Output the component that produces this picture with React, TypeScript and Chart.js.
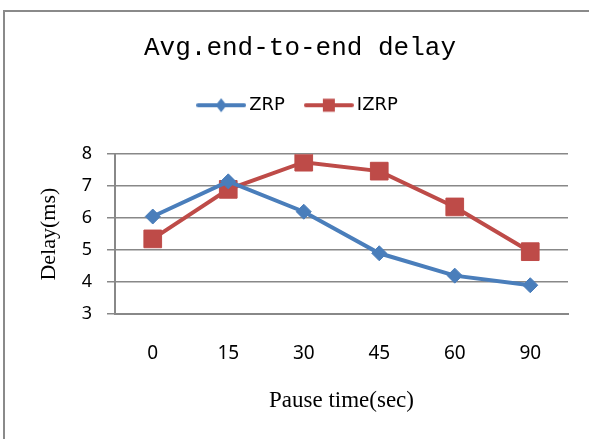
import React, { useEffect, useRef } from 'react';
import { Chart, registerables } from 'chart.js';

Chart.register(...registerables);

// ---- data ----
const categories = ['0', '15', '30', '45', '60', '90'];
const zrpValues = [6.05, 7.15, 6.2, 4.9, 4.2, 3.9];
const izrpValues = [5.35, 6.9, 7.75, 7.47, 6.35, 4.95];
const yTickValues = [3, 4, 5, 6, 7, 8];
const seriesNames = ['ZRP', 'IZRP'];
const seriesColors = ['#4A7EBB', '#BE4B48'];

const TITLE_CENTER_X = 300;

function makeLegendMarker(color: string, shape: 'diamond' | 'square') {
  const c = document.createElement('canvas');
  c.width = 50;
  c.height = 18;
  const ctx = c.getContext('2d')!;
  ctx.strokeStyle = color;
  ctx.lineWidth = 4;
  ctx.lineCap = 'round';
  ctx.beginPath();
  ctx.moveTo(2, 9);
  ctx.lineTo(48, 9);
  ctx.stroke();
  ctx.fillStyle = color;
  if (shape === 'diamond') {
    ctx.beginPath();
    ctx.moveTo(25, 2);
    ctx.lineTo(30.5, 9);
    ctx.lineTo(25, 16);
    ctx.lineTo(19.5, 9);
    ctx.closePath();
    ctx.fill();
  } else {
    ctx.fillRect(19, 2.5, 12, 13);
  }
  return c;
}

const framePlugin = {
  id: 'frame',
  beforeDraw(chart: any) {
    const { ctx, width, height } = chart;
    ctx.save();
    ctx.fillStyle = '#ffffff';
    ctx.fillRect(0, 0, width, height);
    ctx.strokeStyle = '#8a8a8a';
    ctx.lineWidth = 2;
    ctx.beginPath();
    ctx.moveTo(4, height + 2);
    ctx.lineTo(4, 11);
    ctx.lineTo(width + 2, 11);
    ctx.stroke();
    ctx.restore();
  },
};

const centerShiftPlugin = {
  id: 'centerShift',
  afterLayout(chart: any) {
    for (const b of [chart.titleBlock, chart.legend]) {
      if (b) b.left = 2 * TITLE_CENTER_X - b.right;
    }
  },
};

export default function App() {
  const ref = useRef<HTMLCanvasElement>(null);

  useEffect(() => {
    if (!ref.current) return;
    const markers = [makeLegendMarker(seriesColors[0], 'diamond'), makeLegendMarker(seriesColors[1], 'square')];
    const chart = new Chart(ref.current, {
      type: 'line',
      data: {
        labels: categories,
        datasets: [
          {
            label: seriesNames[0],
            data: zrpValues,
            borderColor: seriesColors[0],
            backgroundColor: seriesColors[0],
            borderWidth: 4,
            pointStyle: 'rectRot',
            pointRadius: 7.5,
            pointBorderWidth: 1,
            pointBackgroundColor: seriesColors[0],
            pointBorderColor: seriesColors[0],
            tension: 0,
          },
          {
            label: seriesNames[1],
            data: izrpValues,
            borderColor: seriesColors[1],
            backgroundColor: seriesColors[1],
            borderWidth: 4,
            pointStyle: 'rect',
            pointRadius: 12.5,
            pointBorderWidth: 1,
            pointBackgroundColor: seriesColors[1],
            pointBorderColor: seriesColors[1],
            tension: 0,
          },
        ],
      },
      options: {
        responsive: false,
        animation: false,
        layout: { padding: { left: 0, right: 21, top: 0, bottom: 0 } },
        plugins: {
          title: {
            display: true,
            text: 'Avg.end-to-end delay',
            color: '#000',
            font: { family: 'Liberation Mono', size: 26, weight: 'normal', lineHeight: 1.2 },
            padding: { top: 33, bottom: 7 },
          },
          subtitle: {
            display: true,
            text: '',
            weight: 1000,
            font: { size: 30, lineHeight: 1 },
            padding: { top: 0, bottom: 0 },
          },
          legend: {
            display: true,
            weight: 1500,
            labels: {
              usePointStyle: true,
              pointStyleWidth: 38,
              padding: 25,
              color: '#000',
              font: { family: 'DejaVu Sans', size: 18 },
              generateLabels: (ch: any) => {
                const items = (Chart as any).defaults.plugins.legend.labels.generateLabels(ch);
                return items.map((it: any, i: number) => ({ ...it, pointStyle: markers[i] }));
              },
            },
          },
          tooltip: { enabled: false },
        },
        scales: {
          x: {
            offset: true,
            grid: { display: false, drawTicks: false },
            border: { display: true, color: '#888', width: 2 },
            ticks: { padding: 28.5, color: '#000', font: { family: 'Noto Sans', size: 19 } },
            title: {
              display: true,
              text: 'Pause time(sec)',
              color: '#000',
              font: { family: 'Liberation Serif', size: 23 },
              padding: { top: 0, bottom: 24 },
            },
            afterFit: (s: any) => {
              s.height = 125;
            },
          },
          y: {
            min: 3,
            max: 8,
            afterBuildTicks: (s: any) => {
              s.ticks = yTickValues.map((v) => ({ value: v }));
            },
            grid: { color: '#888', lineWidth: 1.5, tickLength: 8, drawTicks: true },
            border: { display: true, color: '#888', width: 2 },
            ticks: { padding: 15, color: '#000', font: { family: 'Noto Sans', size: 18 } },
            title: {
              display: true,
              text: 'Delay(ms)',
              color: '#000',
              font: { family: 'Liberation Serif', size: 22 },
              padding: { top: 36, bottom: 0 },
            },
            afterFit: (s: any) => {
              s.width = 115;
            },
          },
        },
      },
      plugins: [framePlugin, centerShiftPlugin],
    });
    return () => chart.destroy();
  }, []);

  return (
    <div style={{ position: 'fixed', left: 0, top: 0, width: 589, height: 439 }}>
      <canvas ref={ref} width={589} height={439} style={{ display: 'block' }} />
    </div>
  );
}
